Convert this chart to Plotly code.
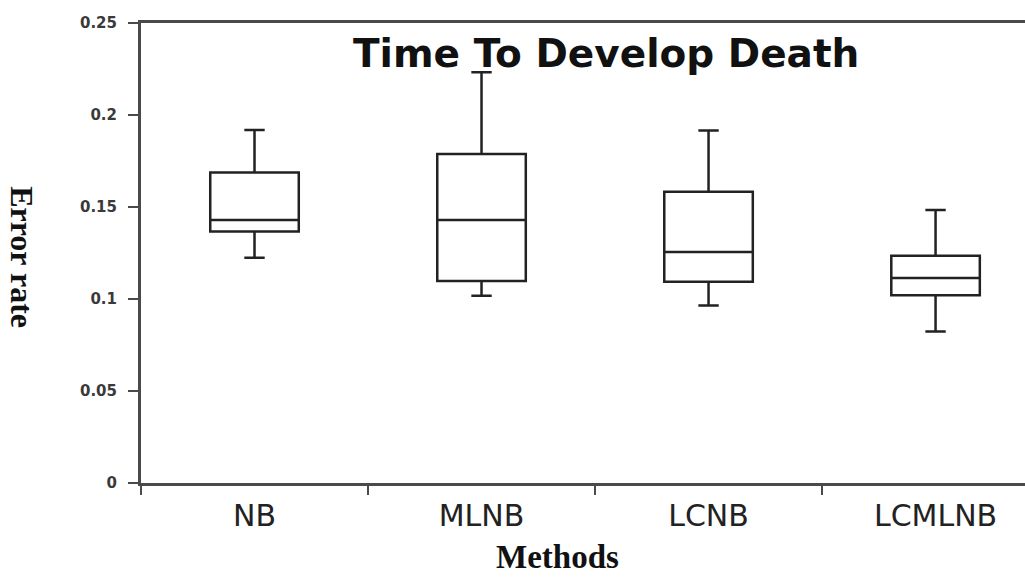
import plotly.graph_objects as go

methods = ["NB", "MLNB", "LCNB", "LCMLNB"]
lower_whisker = [0.1224, 0.1018, 0.0964, 0.0824]
q1_vals = [0.1367, 0.1098, 0.1094, 0.1020]
medians = [0.1429, 0.1429, 0.1255, 0.1114]
q3_vals = [0.1688, 0.1788, 0.1583, 0.1235]
upper_whisker = [0.1918, 0.2232, 0.1916, 0.1484]

y_ticks = [0, 0.05, 0.1, 0.15, 0.2, 0.25]
y_tick_text = ["0", "0.05", "0.1", "0.15", "0.2", "0.25"]

fig = go.Figure()
fig.add_trace(go.Box(
    x=methods,
    q1=q1_vals, median=medians, q3=q3_vals,
    lowerfence=lower_whisker, upperfence=upper_whisker,
    boxpoints=False,
    width=0.39,
    whiskerwidth=0.23,
    fillcolor="rgba(255,255,255,0)",
    line=dict(color="#222222", width=2.5),
    showlegend=False,
    hoverinfo="skip",
))

axis_color = "#4a4a4a"
fig.update_layout(
    width=1025, height=579,
    margin=dict(l=141, r=0, t=23, b=96),
    paper_bgcolor="white", plot_bgcolor="white",
    xaxis=dict(
        type="category",
        categoryorder="array", categoryarray=methods,
        range=[-0.5, 3.394],
        tickson="boundaries",
        ticks="outside", ticklen=9, tickwidth=2, tickcolor=axis_color,
        showline=True, linecolor=axis_color, linewidth=3,
        mirror=True,
        showgrid=False, zeroline=False,
        tickfont=dict(family="DejaVu Sans, sans-serif", size=30, color="#222222"),
        ticklabelstandoff=4,
    ),
    yaxis=dict(
        range=[0, 0.25],
        tickvals=y_ticks, ticktext=y_tick_text,
        ticks="outside", ticklen=10, tickwidth=2, tickcolor=axis_color,
        showline=True, linecolor=axis_color, linewidth=3,
        showgrid=False, zeroline=False,
        tickfont=dict(family="DejaVu Sans, sans-serif", size=15, color="#3a3a3a", weight="bold"),
        ticklabelstandoff=8,
    ),
    annotations=[
        dict(text="<b>Time To Develop Death</b>", xref="paper", yref="paper",
             x=0.526, y=0.933, xanchor="center", yanchor="middle", showarrow=False,
             font=dict(family="DejaVu Sans, sans-serif", size=39, color="#111111")),
        dict(text="<b>Error rate</b>", xref="paper", yref="paper",
             x=-0.1346, y=0.491, xanchor="center", yanchor="middle", showarrow=False,
             textangle=90,
             font=dict(family="Liberation Serif, Times New Roman, serif", size=32, color="#111111")),
        dict(text="<b>Methods</b>", xref="paper", yref="paper",
             x=0.4706, y=-0.161, xanchor="center", yanchor="middle", showarrow=False,
             font=dict(family="Liberation Serif, Times New Roman, serif", size=33, color="#111111")),
    ],
)

fig.write_html("out.html")
